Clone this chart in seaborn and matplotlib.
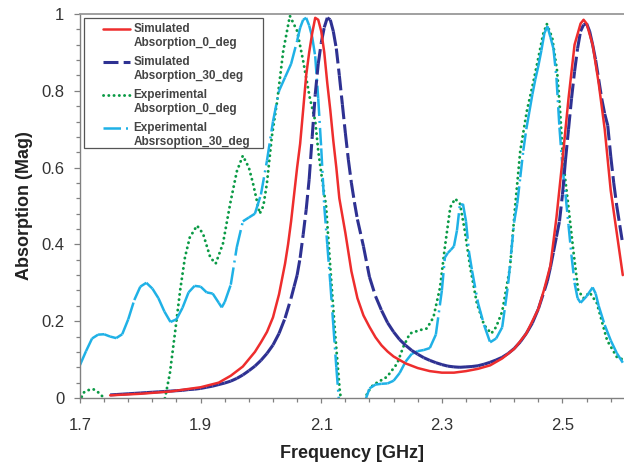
import numpy as np
import pandas as pd
import matplotlib
matplotlib.use("Agg")
import matplotlib.pyplot as plt
import seaborn as sns
from matplotlib.lines import Line2D
from matplotlib.patches import Rectangle
from matplotlib.legend_handler import HandlerLine2D
from matplotlib.ticker import FixedLocator, MultipleLocator, FuncFormatter

# %%
# Simulated absorption, 0 deg (red, solid)
sim0_freq = [1.75, 1.80, 1.85, 1.90, 1.93, 1.95, 1.97, 1.99, 2.00, 2.01, 2.02, 2.03,
             2.04, 2.045, 2.05, 2.055, 2.06, 2.065, 2.07, 2.075, 2.08, 2.085, 2.09,
             2.095, 2.10, 2.105, 2.11, 2.115, 2.12, 2.125, 2.13, 2.135, 2.14, 2.15,
             2.16, 2.17, 2.18, 2.19, 2.20, 2.21, 2.22, 2.24, 2.26, 2.28, 2.30, 2.32,
             2.34, 2.36, 2.38, 2.40, 2.42, 2.44, 2.46, 2.47, 2.48, 2.49, 2.50, 2.51,
             2.52, 2.53, 2.535, 2.54, 2.55, 2.56, 2.57, 2.58, 2.59, 2.60]
sim0_abs = [0.007, 0.011, 0.017, 0.028, 0.040, 0.058, 0.082, 0.120, 0.145, 0.172, 0.21, 0.27,
            0.35, 0.40, 0.46, 0.53, 0.60, 0.662, 0.75, 0.84, 0.90, 0.95, 0.99,
            0.985, 0.955, 0.90, 0.82, 0.75, 0.67, 0.60, 0.52, 0.475, 0.43, 0.33,
            0.26, 0.215, 0.185, 0.158, 0.137, 0.121, 0.108, 0.09, 0.078, 0.07, 0.066, 0.066,
            0.07, 0.076, 0.085, 0.103, 0.128, 0.168, 0.232, 0.285, 0.345, 0.47, 0.62, 0.78,
            0.92, 0.975, 0.985, 0.975, 0.92, 0.82, 0.70, 0.54, 0.43, 0.32]

# Simulated absorption, 30 deg (navy, dashed)
sim30_freq = [1.75, 1.76, 1.77, 1.78, 1.79, 1.80, 1.81, 1.82, 1.83, 1.84, 1.85, 1.86,
              1.87, 1.88, 1.89, 1.90, 1.91, 1.92, 1.93, 1.94, 1.95, 1.96, 1.97, 1.98,
              1.99, 2.00, 2.01, 2.02, 2.03, 2.04, 2.05, 2.055, 2.06, 2.065, 2.07, 2.075,
              2.08, 2.085, 2.09, 2.095, 2.10, 2.105, 2.11, 2.115, 2.12, 2.125, 2.13,
              2.135, 2.14, 2.145, 2.15, 2.155, 2.16, 2.17, 2.18, 2.19, 2.20, 2.21, 2.22,
              2.23, 2.24, 2.25, 2.26, 2.27, 2.28, 2.29, 2.30, 2.31, 2.32, 2.33, 2.34,
              2.35, 2.36, 2.37, 2.38, 2.39, 2.40, 2.41, 2.42, 2.43, 2.44, 2.45, 2.46,
              2.47, 2.475, 2.48, 2.485, 2.49, 2.495, 2.50, 2.505, 2.51, 2.515, 2.52,
              2.525, 2.53, 2.535, 2.54, 2.545, 2.55, 2.555, 2.56, 2.565, 2.57, 2.575,
              2.58, 2.585, 2.59, 2.595, 2.60]
sim30_abs = [0.008, 0.009, 0.010, 0.011, 0.012, 0.013, 0.014, 0.015, 0.016, 0.017, 0.018, 0.019,
             0.020, 0.022, 0.023, 0.025, 0.028, 0.031, 0.035, 0.039, 0.044, 0.051, 0.060, 0.071,
             0.083, 0.098, 0.116, 0.138, 0.168, 0.208, 0.26, 0.29, 0.32, 0.365, 0.425, 0.49,
             0.57, 0.68, 0.79, 0.87, 0.925, 0.965, 0.99, 0.985, 0.955, 0.91, 0.84,
             0.765, 0.69, 0.62, 0.56, 0.51, 0.465, 0.395, 0.315, 0.265, 0.228, 0.196, 0.172,
             0.152, 0.137, 0.124, 0.114, 0.105, 0.098, 0.092, 0.087, 0.083, 0.081, 0.080, 0.081,
             0.082, 0.084, 0.088, 0.093, 0.099, 0.106, 0.116, 0.129, 0.146, 0.168, 0.195, 0.232,
             0.28, 0.305, 0.34, 0.38, 0.42, 0.46, 0.53, 0.62, 0.70, 0.78, 0.85,
             0.91, 0.955, 0.972, 0.975, 0.955, 0.92, 0.88, 0.83, 0.78, 0.74, 0.71,
             0.63, 0.56, 0.50, 0.45, 0.40]

# Experimental absorption, 0 deg (green, dotted); negative = below the axis
exp0_freq = [1.700, 1.705, 1.712, 1.722, 1.730, 1.738, 1.745, 1.80, 1.835, 1.841, 1.849,
             1.858, 1.866, 1.874, 1.882, 1.894, 1.904, 1.916, 1.925, 1.937, 1.949, 1.96,
             1.97, 1.98, 1.987, 1.998, 2.004, 2.01, 2.018, 2.027, 2.037, 2.048, 2.06,
             2.07, 2.081, 2.09, 2.095, 2.101, 2.108, 2.115, 2.123, 2.131, 2.14, 2.17,
             2.176, 2.186, 2.209, 2.226, 2.236, 2.247, 2.264, 2.275, 2.286, 2.297, 2.305,
             2.314, 2.322, 2.330, 2.338, 2.347, 2.358, 2.37, 2.382, 2.39, 2.40, 2.413,
             2.421, 2.43, 2.441, 2.451, 2.46, 2.468, 2.474, 2.483, 2.491, 2.496, 2.501,
             2.509, 2.518, 2.526, 2.535, 2.545, 2.557, 2.574, 2.59, 2.602]
exp0_abs = [-0.01, 0.013, 0.02, 0.023, 0.015, 0.003, -0.02, -0.02, -0.02, 0.0, 0.064,
            0.176, 0.28, 0.366, 0.418, 0.449, 0.428, 0.366, 0.35, 0.402, 0.506, 0.59,
            0.631, 0.60, 0.558, 0.48, 0.50, 0.56, 0.68, 0.774, 0.904, 0.995, 0.956,
            0.878, 0.782, 0.722, 0.644, 0.574, 0.50, 0.34, 0.168, 0.013, -0.05, -0.03,
            0.013, 0.034, 0.055, 0.09, 0.133, 0.168, 0.177, 0.181, 0.21, 0.288, 0.393,
            0.497, 0.519, 0.506, 0.436, 0.34, 0.247, 0.19, 0.168, 0.185, 0.225, 0.34,
            0.49, 0.644, 0.748, 0.818, 0.886, 0.948, 0.974, 0.938, 0.852, 0.748, 0.618,
            0.51, 0.384, 0.28, 0.26, 0.275, 0.247, 0.15, 0.107, 0.099]

# Experimental absorption, 30 deg (cyan, dash-dot)
exp30_freq = [1.70, 1.71, 1.72, 1.73, 1.74, 1.75, 1.76, 1.77, 1.78, 1.79, 1.80, 1.81,
              1.82, 1.83, 1.84, 1.85, 1.86, 1.87, 1.88, 1.89, 1.90, 1.91, 1.92, 1.93,
              1.935, 1.94, 1.95, 1.96, 1.97, 1.98, 1.99, 2.00, 2.01, 2.02, 2.03, 2.04,
              2.05, 2.06, 2.065, 2.07, 2.075, 2.08, 2.085, 2.09, 2.095, 2.10, 2.105,
              2.11, 2.115, 2.12, 2.125, 2.13, 2.14, 2.16, 2.17, 2.18, 2.19, 2.20, 2.21,
              2.22, 2.23, 2.24, 2.25, 2.26, 2.27, 2.28, 2.29, 2.30, 2.305, 2.31, 2.315,
              2.32, 2.325, 2.33, 2.335, 2.34, 2.345, 2.35, 2.36, 2.37, 2.38, 2.39, 2.40,
              2.405, 2.41, 2.415, 2.42, 2.425, 2.43, 2.435, 2.44, 2.445, 2.45, 2.455,
              2.46, 2.465, 2.47, 2.475, 2.48, 2.485, 2.49, 2.495, 2.50, 2.505, 2.51,
              2.515, 2.52, 2.525, 2.53, 2.54, 2.55, 2.555, 2.56, 2.57, 2.58, 2.59, 2.60]
exp30_abs = [0.086, 0.122, 0.155, 0.165, 0.166, 0.160, 0.156, 0.166, 0.205, 0.255, 0.29, 0.30,
             0.285, 0.26, 0.225, 0.198, 0.205, 0.235, 0.275, 0.292, 0.29, 0.275, 0.272, 0.248,
             0.236, 0.25, 0.295, 0.393, 0.46, 0.47, 0.48, 0.53, 0.618, 0.72, 0.80, 0.835,
             0.87, 0.93, 0.964, 0.985, 0.99, 0.97, 0.94, 0.89, 0.78, 0.65, 0.50,
             0.40, 0.30, 0.19, 0.08, -0.02, -0.05, -0.05, -0.02, 0.025, 0.035, 0.037, 0.038,
             0.045, 0.065, 0.095, 0.115, 0.122, 0.125, 0.13, 0.165, 0.28, 0.366, 0.378, 0.386,
             0.395, 0.436, 0.505, 0.505, 0.46, 0.38, 0.332, 0.247, 0.19, 0.145, 0.155, 0.184,
             0.24, 0.298, 0.38, 0.46, 0.506, 0.575, 0.644, 0.70, 0.745, 0.79, 0.83,
             0.865, 0.905, 0.95, 0.968, 0.94, 0.91, 0.834, 0.704, 0.60, 0.53, 0.45,
             0.37, 0.30, 0.26, 0.248, 0.265, 0.288, 0.272, 0.24, 0.19, 0.15, 0.117, 0.092]

labels = ['Simulated\nAbsorption_0_deg', 'Simulated\nAbsorption_30_deg',
          'Experimental\nAbsorption_0_deg', 'Experimental\nAbsrsoption_30_deg']

RED = '#ee2d2d'
NAVY = '#2e3192'
GREEN = '#0a9a45'
CYAN = '#1fb1e6'


def segments(freq, vals):
    # one unit per pair of points, so the dash pattern restarts on every step
    parts = []
    for i in range(len(freq) - 1):
        parts.append(pd.DataFrame({'freq': freq[i:i + 2], 'abs': vals[i:i + 2], 'seg': i}))
    return pd.concat(parts, ignore_index=True)


def raise_handle(legend_handle, orig_handle):
    # keep the style, but put the sample next to the first text line
    legend_handle.update_from(orig_handle)
    legend_handle.set_ydata(legend_handle.get_ydata() + 5.6)


# %%
sns.set_style('ticks')
plt.rcParams['font.family'] = ['Liberation Sans', 'DejaVu Sans']

fig = plt.figure(figsize=(6.24, 4.65), dpi=100)
ax = fig.add_axes([80 / 624, 67 / 465, 544 / 624, 384 / 465])

blue_ls = (0, (4.9, 1.7))
cyan_ls = (0, (7.0, 2.0, 0.8, 2.0))
green_ls = (0, (0.05, 1.75))

sns.lineplot(x=exp0_freq, y=exp0_abs, color=GREEN, lw=2.1, ls=green_ls,
             dash_capstyle='round', ax=ax)
sns.lineplot(data=segments(exp30_freq, exp30_abs), x='freq', y='abs', units='seg',
             estimator=None, color=CYAN, lw=1.8, ls=cyan_ls, ax=ax)
sns.lineplot(data=segments(sim30_freq, sim30_abs), x='freq', y='abs', units='seg',
             estimator=None, color=NAVY, lw=2.2, ls=blue_ls, ax=ax)
sns.lineplot(x=sim0_freq, y=sim0_abs, color=RED, lw=1.8, ax=ax)

ax.set_xlim(1.7, 2.602)
ax.set_ylim(0, 1)
ax.xaxis.set_major_locator(FixedLocator([1.7, 1.9, 2.1, 2.3, 2.5]))
ax.xaxis.set_minor_locator(MultipleLocator(0.04, offset=0.02))
ax.yaxis.set_major_locator(MultipleLocator(0.2))
ax.yaxis.set_minor_locator(MultipleLocator(0.04))
ax.yaxis.set_major_formatter(FuncFormatter(lambda v, p: f'{v:g}'))
ax.xaxis.set_major_formatter(FuncFormatter(lambda v, p: f'{v:g}'))

ax.tick_params(axis='x', which='major', length=3.6, width=0.9, color='#808080',
               labelsize=12, labelcolor='#333333', pad=10.5)
ax.tick_params(axis='x', which='minor', length=2.9, width=0.9, color='#808080')
ax.tick_params(axis='y', which='major', length=4.3, width=0.9, color='#808080',
               labelsize=12, labelcolor='#333333', pad=7)
ax.tick_params(axis='y', which='minor', length=2.9, width=0.9, color='#808080')

for side in ['left', 'bottom']:
    ax.spines[side].set_color('#808080')
    ax.spines[side].set_linewidth(1.0)
ax.spines['top'].set_color('#999999')
ax.spines['top'].set_linewidth(1.3)
ax.spines['right'].set_visible(False)

ax.set_xlabel('Frequency [GHz]', fontsize=13, fontweight='bold', color='#222222', labelpad=9)
ax.set_ylabel('Absorption (Mag)', fontsize=13, fontweight='bold', color='#222222', labelpad=6)

# legend frame drawn separately: the original box is wider than its entries
frame = Rectangle((4 / 544, 1 - 134 / 384), 179 / 544, 130 / 384, transform=ax.transAxes,
                  facecolor='white', edgecolor='#555555', lw=0.9, zorder=4.9, clip_on=False)
ax.add_patch(frame)

handles = [Line2D([], [], color=RED, lw=1.8),
           Line2D([], [], color=NAVY, lw=2.2, ls=blue_ls),
           Line2D([], [], color=GREEN, lw=2.1, ls=green_ls, dash_capstyle='round'),
           Line2D([], [], color=CYAN, lw=1.8, ls=cyan_ls)]
leg = ax.legend(handles, labels, loc='upper left', bbox_to_anchor=(23 / 544, 1 - 9.5 / 384),
                borderaxespad=0, borderpad=0, frameon=False,
                prop={'size': 8.5, 'weight': 'bold'}, handlelength=2.3, handletextpad=0.3,
                labelspacing=0.6,
                handler_map={Line2D: HandlerLine2D(update_func=raise_handle)})
for t in leg.get_texts():
    t.set_color('#444444')

fig.savefig('out.png', dpi=100)
